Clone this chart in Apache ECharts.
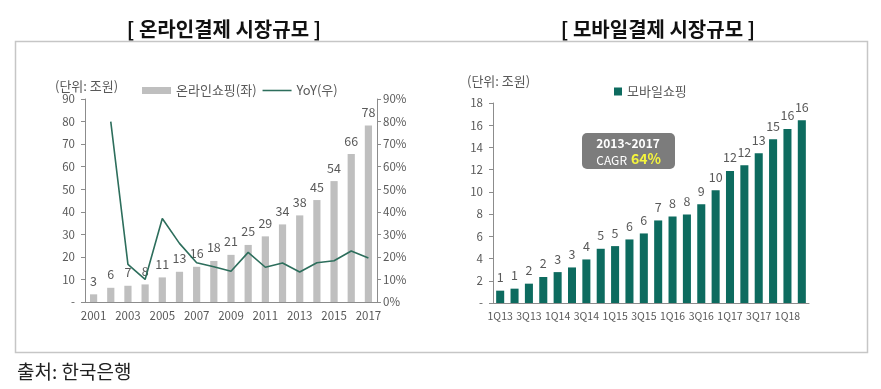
<!DOCTYPE html>
<html><head><meta charset="utf-8">
<script src="https://cdn.jsdelivr.net/npm/echarts@6/dist/echarts.min.js"></script>
<style>html,body{margin:0;padding:0;background:#fff}#c{width:881px;height:389px}</style>
</head><body><div id="c"></div>
<script>
const years = ['2001','2002','2003','2004','2005','2006','2007','2008','2009','2010','2011','2012','2013','2014','2015','2016','2017'];
const onlineShopping = [3.4,6.3,7.2,7.8,10.9,13.4,15.6,18.2,20.9,25.3,29.1,34.4,38.4,45.2,53.6,65.6,78.2];
const yoy = [null,0.80,0.167,0.10,0.37,0.26,0.174,0.156,0.136,0.22,0.154,0.173,0.133,0.174,0.183,0.226,0.195];
const quarters = ['1Q13','2Q13','3Q13','4Q13','1Q14','2Q14','3Q14','4Q14','1Q15','2Q15','3Q15','4Q15','1Q16','2Q16','3Q16','4Q16','1Q17','2Q17','3Q17','4Q17','1Q18','2Q18'];
const mobileShopping = [1.11,1.29,1.74,2.34,2.78,3.2,3.92,4.88,5.12,5.72,6.26,7.43,7.78,7.96,8.89,10.15,11.89,12.4,13.47,14.73,15.66,16.44];

const FONT = '"Noto Sans CJK KR","Noto Sans",sans-serif';
const GRAY = '#595959';
const AXIS = '#8c8c8c';
const TEAL = '#0d6b5f';
const LINE = '#2d6e5c';

const chart = echarts.init(document.getElementById('c'));
const axisLabel = {color: GRAY, fontSize: 11.5, fontFamily: FONT};
chart.setOption({
  animation: false,
  textStyle: {fontFamily: FONT},
  grid: [
    {left: 85, right: 504, top: 99, bottom: 87},
    {left: 493, right: 72, top: 103, bottom: 86}
  ],
  legend: [
    {left: 137, top: 79, itemWidth: 29, itemHeight: 7, itemGap: 6,
     textStyle: {color: GRAY, fontSize: 13, fontFamily: FONT},
     data: [{name: '온라인쇼핑(좌)', icon: 'rect'},
            {name: 'YoY(우)', icon: 'path://M0,0 L30,0 L30,1.6 L0,1.6 Z', itemStyle: {color: LINE}}]},
    {left: 609, top: 80, itemWidth: 8, itemHeight: 8, itemGap: 4,
     textStyle: {color: GRAY, fontSize: 13, fontFamily: FONT},
     data: [{name: '모바일쇼핑', icon: 'rect'}]}
  ],
  xAxis: [
    {type: 'category', gridIndex: 0, data: years,
     axisLine: {lineStyle: {color: AXIS}},
     axisTick: {interval: 0, length: 4, lineStyle: {color: AXIS}},
     axisLabel: Object.assign({}, axisLabel, {interval: 1, margin: 8})},
    {type: 'category', gridIndex: 1, data: quarters,
     axisLine: {lineStyle: {color: AXIS}},
     axisTick: {interval: 0, length: 4, lineStyle: {color: AXIS}},
     axisLabel: Object.assign({}, axisLabel, {interval: 1, margin: 8, fontSize: 10.5})}
  ],
  yAxis: [
    {type: 'value', gridIndex: 0, min: 0, max: 90, interval: 10,
     axisLine: {show: true, lineStyle: {color: AXIS}},
     axisTick: {show: true, length: 4, lineStyle: {color: AXIS}},
     splitLine: {show: false},
     axisLabel: Object.assign({margin: 10, formatter: v => v === 0 ? '-' : v}, axisLabel)},
    {type: 'value', gridIndex: 0, position: 'right', min: 0, max: 0.9, interval: 0.1,
     axisLine: {show: true, lineStyle: {color: AXIS}},
     axisTick: {show: true, length: 4, lineStyle: {color: AXIS}},
     splitLine: {show: false},
     axisLabel: Object.assign({margin: 6, formatter: v => Math.round(v * 100) + '%'}, axisLabel)},
    {type: 'value', gridIndex: 1, min: 0, max: 18, interval: 2,
     axisLine: {show: true, lineStyle: {color: AXIS}},
     axisTick: {show: true, length: 4, lineStyle: {color: AXIS}},
     splitLine: {show: false},
     axisLabel: Object.assign({margin: 10, formatter: v => v === 0 ? '-' : v}, axisLabel)}
  ],
  series: [
    {name: '온라인쇼핑(좌)', type: 'bar', xAxisIndex: 0, yAxisIndex: 0, data: onlineShopping,
     barWidth: '42%', itemStyle: {color: '#bfbfbf'},
     label: {show: true, position: 'top', distance: 7, color: GRAY, fontSize: 12.5, fontFamily: FONT,
             formatter: p => Math.round(p.value)}},
    {name: 'YoY(우)', type: 'line', xAxisIndex: 0, yAxisIndex: 1, data: yoy,
     symbol: 'none', lineStyle: {color: LINE, width: 1.6}, itemStyle: {color: LINE}, z: 5},
    {name: '모바일쇼핑', type: 'bar', xAxisIndex: 1, yAxisIndex: 2, data: mobileShopping,
     barWidth: '56%', itemStyle: {color: TEAL},
     label: {show: true, position: 'top', distance: 7, color: GRAY, fontSize: 12.5, fontFamily: FONT,
             formatter: p => Math.round(p.value)}}
  ],
  graphic: [
    {type: 'rect', shape: {x: 15.5, y: 41.5, width: 852, height: 311}, silent: true, z: -10,
     style: {fill: 'none', stroke: '#c6c6c6', lineWidth: 1.5}},
    {type: 'text', x: 224, y: 29, style: {text: '[ 온라인결제 시장규모 ]', font: 'bold 20px ' + FONT, fill: '#111', align: 'center', verticalAlign: 'middle'}},
    {type: 'text', x: 658, y: 29, style: {text: '[ 모바일결제 시장규모 ]', font: 'bold 20px ' + FONT, fill: '#111', align: 'center', verticalAlign: 'middle'}},
    {type: 'text', x: 55, y: 86, style: {text: '(단위: 조원)', font: '13px ' + FONT, fill: GRAY, verticalAlign: 'middle'}},
    {type: 'text', x: 467, y: 81, style: {text: '(단위: 조원)', font: '13px ' + FONT, fill: GRAY, verticalAlign: 'middle'}},
    {type: 'rect', shape: {x: 582, y: 133, width: 93, height: 36, r: 5}, style: {fill: '#7c7c7c'}},
    {type: 'text', x: 628, y: 143, style: {text: '2013~2017', font: 'bold 12px ' + FONT, fill: '#fff', align: 'center', verticalAlign: 'middle'}},
    {type: 'text', x: 627, y: 160, style: {text: 'CAGR', font: '12px ' + FONT, fill: '#fff', align: 'right', verticalAlign: 'middle'}},
    {type: 'text', x: 631, y: 159, style: {text: '64%', font: 'bold 14px ' + FONT, fill: '#f5f53c', align: 'left', verticalAlign: 'middle'}},
    {type: 'text', x: 17, y: 372, style: {text: '출처: 한국은행', font: '19px ' + FONT, fill: '#222', verticalAlign: 'middle'}}
  ]
});
</script></body></html>
